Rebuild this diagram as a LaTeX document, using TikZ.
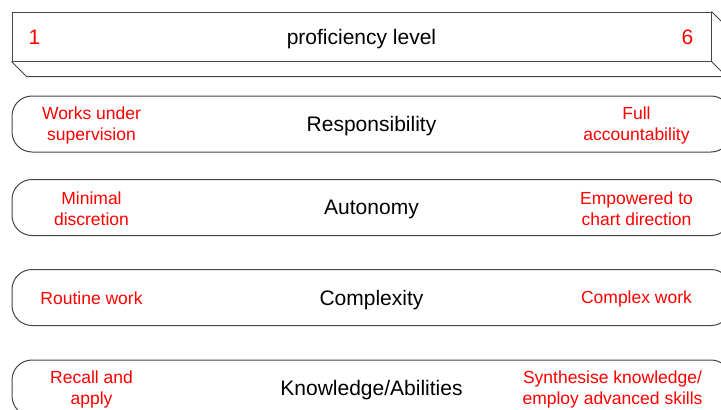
\documentclass[tikz,border=0pt]{standalone}
\usepackage{fontspec}
\setmainfont{Liberation Sans}
\definecolor{edgegray}{HTML}{454545}
\definecolor{lvlred}{HTML}{FF0000}
\tikzset{
  lvlbar/.style={draw=edgegray,line width=1pt,rounded corners=20pt,
    minimum width=719pt,minimum height=56pt,inner sep=0pt,text depth=0pt,
    font=\fontsize{21}{24}\selectfont},
  lvlend/.style={text=lvlred,align=center,inner sep=0pt,
    font=\fontsize{17.5}{21}\selectfont}
}
\begin{document}
\begin{tikzpicture}[x=1pt,y=-1pt]
  \useasboundingbox (0,0) rectangle (721,410);
  \clip (0,0) rectangle (721,410);

  \node[draw=edgegray,line width=1pt,minimum width=699pt,minimum height=49pt,
    inner sep=0pt,text depth=0pt,font=\fontsize{21}{24}\selectfont] (prof) at (361.5,36.5) {proficiency level};
  \draw[edgegray,line width=1pt] (prof.south west) -- ++(15,15)
    -- ([xshift=15pt,yshift=-15pt]prof.south east)
    -- ([xshift=15pt,yshift=-15pt]prof.north east) -- (prof.north east);
  \draw[edgegray,line width=1pt] (prof.south east) -- ++(15,15);
  \node[lvlend,font=\fontsize{21}{24}\selectfont] (lo) at ([xshift=23pt,yshift=-1pt]prof.west) {1};
  \node[lvlend,font=\fontsize{21}{24}\selectfont] (hi) at ([xshift=-24pt,yshift=-1pt]prof.east) {6};

  \node[lvlbar] (resp) at (371.5,124) {Responsibility};
  \node[lvlend] (resplo) at ([xshift=80pt,yshift=-1pt]resp.west) {Works under\\supervision};
  \node[lvlend] (resphi) at ([xshift=-95pt,yshift=-1pt]resp.east) {Full\\accountability};

  \node[lvlbar] (auto) at (371.5,207.5) {Autonomy};
  \node[lvlend] (autolo) at ([xshift=80pt,yshift=-1pt]auto.west) {Minimal\\discretion};
  \node[lvlend] (autohi) at ([xshift=-95pt,yshift=-1pt]auto.east) {Empowered to\\chart direction};

  \node[lvlbar] (compl) at (371.5,297.5) {Complexity};
  \node[lvlend] (compllo) at ([xshift=80pt,yshift=-1pt]compl.west) {Routine work};
  \node[lvlend] (complhi) at ([xshift=-95pt,yshift=-1pt]compl.east) {Complex work};

  \node[lvlbar] (know) at (371.5,388) {Knowledge/Abilities};
  \node[lvlend] (knowlo) at ([xshift=80pt,yshift=-1pt]know.west) {Recall and\\apply};
  \node[lvlend] (knowhi) at ([xshift=-119pt,yshift=-1pt]know.east) {Synthesise knowledge/\\employ advanced skills};
\end{tikzpicture}
\end{document}
